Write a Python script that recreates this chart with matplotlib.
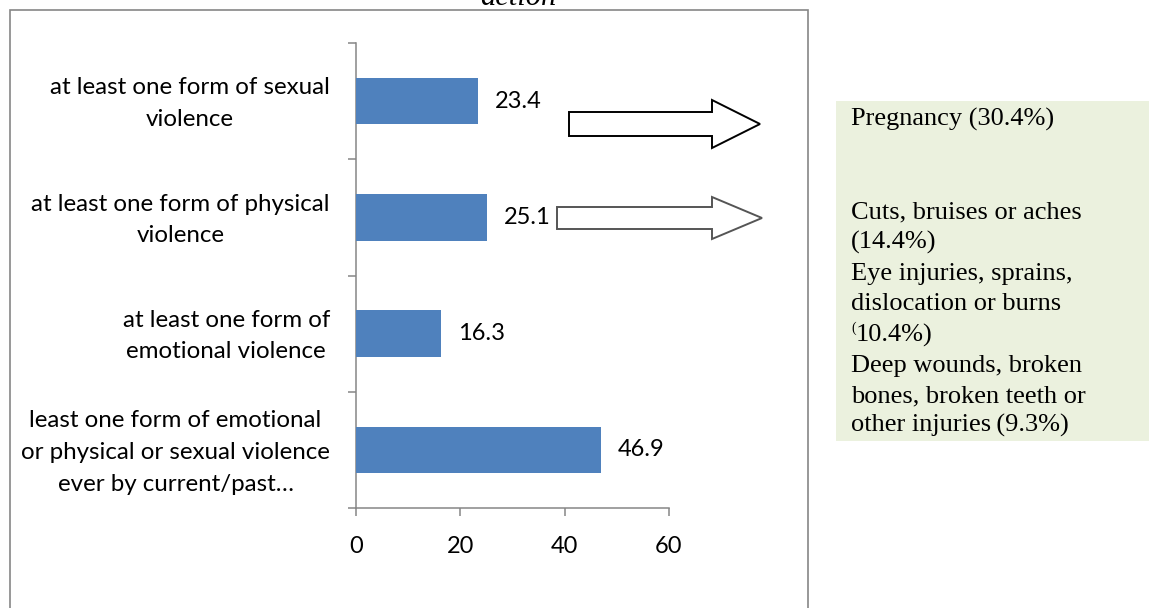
import matplotlib
matplotlib.use("Agg")
import matplotlib.pyplot as plt
import matplotlib.transforms as mtransforms
from matplotlib.patches import Polygon, Rectangle

# Data
categories = [
    "at least one form of sexual\nviolence",
    "at least one form of physical\nviolence",
    "at least one form of\nemotional violence",
    "least one form of emotional\nor physical or sexual violence\never by current/past\u2026",
]
values = [23.4, 25.1, 16.3, 46.9]
xticks = [0, 20, 40, 60]

consequences_sexual = ["Pregnancy (30.4%)"]
consequences_physical = [
    "Cuts, bruises or aches",
    "(14.4%)",
    "Eye injuries, sprains,",
    "dislocation or burns",
    "10.4%)",
    "Deep wounds, broken",
    "bones, broken teeth or",
    "other injuries\u2009(9.3%)",
]

W, H = 1149, 608
fig = plt.figure(figsize=(W / 100, H / 100), dpi=100)
fig.patch.set_facecolor("white")


def fx(px):
    return px / W


def fy(py):
    return 1 - py / H


axis_grey = "#868686"
sans = ["Lato", "DejaVu Sans"]
serif = ["Liberation Serif", "DejaVu Serif"]

# Frame around the chart area
fig.add_artist(Rectangle((fx(10), fy(640)), fx(808) - fx(10), fy(10) - fy(640),
                         transform=fig.transFigure, fill=False,
                         edgecolor=axis_grey, linewidth=1.2))

# Title text, mostly cut off at the top edge
fig.text(fx(518), fy(5), "action", ha="center", va="baseline",
         fontsize=22, style="italic", family=serif, color="black")

ax = fig.add_axes([fx(356), fy(508), fx(669) - fx(356), fy(43) - fy(508)])
ypos = list(range(len(categories)))
ax.barh(ypos, values, height=0.4, color="#4F81BD", zorder=3)
ax.set_xlim(0, 60)
ax.set_ylim(len(categories) - 0.5, -0.5)

ax.set_xticks(xticks)
ax.set_xticklabels([str(t) for t in xticks], fontsize=17, family=sans)
ax.tick_params(axis="x", length=6, width=1.1, color=axis_grey, pad=14)

# Category labels: centred multi-line blocks, right edge beside the axis
ax.set_yticks(ypos)
ax.set_yticklabels([])
ax.tick_params(axis="y", which="major", length=0)
label_tf = mtransforms.blended_transform_factory(ax.transAxes, ax.transData) + \
    mtransforms.ScaledTranslation(-26 / 100, -2.5 / 100, fig.dpi_scale_trans)
for y, lab in zip(ypos, categories):
    ax.text(0, y, lab, transform=label_tf, ha="right", va="center",
            multialignment="center", linespacing=1.63, fontsize=17.4,
            family=sans, clip_on=False)

ax.set_yticks([i - 0.5 for i in range(len(categories) + 1)], minor=True)
ax.tick_params(axis="y", which="minor", length=6, width=1.1, color=axis_grey)

for side in ("top", "right"):
    ax.spines[side].set_visible(False)
for side in ("left", "bottom"):
    ax.spines[side].set_color(axis_grey)
    ax.spines[side].set_linewidth(1.1)

for y, v in zip(ypos, values):
    ax.annotate(f"{v}", xy=(v, y), xytext=(12, 0), textcoords="offset points",
                va="center", ha="left", fontsize=17, family=sans)


def block_arrow(x0, x1, xh, yc, shaft_half, head_half, edge, lw):
    pts = [(x0, yc - shaft_half), (xh, yc - shaft_half), (xh, yc - head_half),
           (x1, yc), (xh, yc + head_half), (xh, yc + shaft_half),
           (x0, yc + shaft_half)]
    poly = Polygon([(fx(px), fy(py)) for px, py in pts], closed=True,
                   transform=fig.transFigure, facecolor="white",
                   edgecolor=edge, linewidth=lw, joinstyle="miter")
    fig.add_artist(poly)


block_arrow(569, 760, 712, 124, 12, 24, "black", 1.4)
block_arrow(557, 762, 712, 218, 11, 21, "#555555", 1.4)

# Consequence box
fig.add_artist(Rectangle((fx(836), fy(441)), fx(1149) - fx(836), fy(101) - fy(441),
                         transform=fig.transFigure, facecolor="#EBF1DE",
                         edgecolor="none"))

tx = fx(851)
fig.text(tx, fy(126), consequences_sexual[0], ha="left", va="baseline",
         fontsize=19, family=serif)
baselines = [218, 249, 280, 310, 342, 372, 402, 432]
for line, b in zip(consequences_physical, baselines):
    xpos = tx
    if line.startswith("10.4"):
        fig.text(tx, fy(b - 10), "(", ha="left", va="baseline",
                 fontsize=10, family=serif)
        xpos = fx(856)
    fig.text(xpos, fy(b), line, ha="left", va="baseline",
             fontsize=19, family=serif)

fig.savefig("out.png", dpi=100, facecolor="white")
